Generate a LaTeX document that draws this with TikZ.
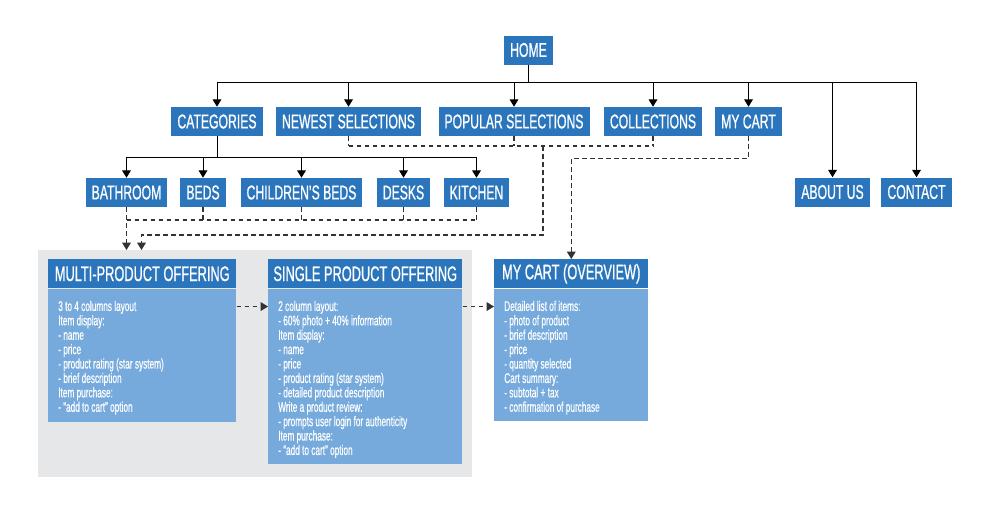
\documentclass[tikz,border=0pt]{standalone}
\usepackage{fontspec}
\setmainfont[FakeStretch=0.61,FakeBold=0.8]{Liberation Sans}
\newfontfamily\bodyfont[FakeStretch=0.59,FakeBold=0.4,Ligatures=TeX]{Liberation Sans}
\usetikzlibrary{arrows.meta}

\definecolor{hdblue}{HTML}{2A75BB}
\definecolor{bdblue}{HTML}{76AADC}
\definecolor{bggray}{HTML}{E6E7E8}
\newcommand\boxtext[3]{\parbox[t][#2][t]{#1}{\raggedright #3}}

\begin{document}
\begin{tikzpicture}[x=0.75pt,y=-0.75pt,
    page/.style={fill=hdblue, text=white, font=\fontsize{15pt}{16pt}\selectfont,
        inner xsep=4.5pt, inner ysep=0pt, minimum height=21.75pt},
    head/.style={fill=hdblue, text=white, font=\fontsize{15.75pt}{17pt}\selectfont,
        inner sep=0pt, minimum height=21.75pt, anchor=north west},
    body/.style={fill=bdblue, text=white, font=\bodyfont\fontsize{10.5pt}{10.8pt}\selectfont,
        inner xsep=7.5pt, inner ysep=9pt, anchor=north west},
    link/.style={line width=0.75pt},
    dlink/.style={line width=0.8pt, draw=black!80, dash pattern=on 3.5pt off 2.5pt},
    >={Triangle[width=6.5pt,length=5.5pt]}]

    \useasboundingbox (0,0) rectangle (998,518);

    % Pages
    \node[page] (home) at (528.5,50) {HOME};
    \node[page] (categories) at (217,121.5) {CATEGORIES};
    \node[page] (newest) at (348.5,121.5) {NEWEST SELECTIONS};
    \node[page] (popular) at (514,121.5) {POPULAR SELECTIONS};
    \node[page] (collections) at (653,121.5) {COLLECTIONS};
    \node[page] (mycart) at (748.5,121.5) {MY CART};
    \node[page] (about) at (832.5,192) {ABOUT US};
    \node[page] (contact) at (916.5,192) {CONTACT};

    \node[page] (bathroom) at (126.5,192.5) {BATHROOM};
    \node[page] (beds) at (203,192.5) {BEDS};
    \node[page] (childbeds) at (301.5,192.5) {CHILDREN’S BEDS};
    \node[page] (desks) at (403.5,192.5) {DESKS};
    \node[page] (kitchen) at (476.5,192.5) {KITCHEN};

    % Offerings
    \node[fill=bggray, inner sep=0pt, minimum width=325.5pt, minimum height=170.25pt,
        anchor=north west] (offerings) at (38,250) {};
    \node[head, minimum width=141pt] (multi) at (48,259) {MULTI-PRODUCT OFFERING};
    \node[body] (multibody) at (multi.south west) {\boxtext{126pt}{81.75pt}{%
        3 to 4 columns layout\\ Item display:\\ - name\\ - price\\
        - product rating (star system)\\ - brief description\\ Item purchase:\\
        - “add to cart” option}};
    \node[head, minimum width=145.5pt] (single) at (268,259) {SINGLE PRODUCT OFFERING};
    \node[body] (singlebody) at (single.south west) {\boxtext{130.5pt}{113.25pt}{%
        2 column layout:\\ - 60\% photo + 40\% information\\ Item display:\\ - name\\
        - price\\ - product rating (star system)\\ - detailed product description\\
        Write a product review:\\ - prompts user login for authenticity\\
        Item purchase:\\ - “add to cart” option}};
    \node[head, minimum width=115.5pt] (cart) at (494,259) {MY CART (OVERVIEW)};
    \node[body] (cartbody) at (cart.south west) {\boxtext{100.5pt}{81pt}{%
        Detailed list of items:\\ - photo of product\\ - brief description\\
        - price\\ - quantity selected\\ Cart summary:\\ - subtotal + tax\\
        - confirmation of purchase}};

    % Main menu
    \coordinate (topbus) at (528.5,82);
    \draw[link] (home.south) -- (topbus);
    \draw[link] (categories.north |- topbus) -- (contact.north |- topbus);
    \foreach \n in {categories,newest,popular,collections,mycart,about,contact}
        \draw[link,->] (\n.north |- topbus) -- (\n.north);

    % Categories
    \coordinate (catbus) at (217,157);
    \draw[link] (categories.south) -- (catbus);
    \draw[link] (bathroom.north |- catbus) -- (kitchen.north |- catbus);
    \foreach \n in {bathroom,beds,childbeds,desks,kitchen}
        \draw[link,->] (\n.north |- catbus) -- (\n.north);

    % Dashed links to the offerings
    \coordinate (subbus) at (126.5,220);
    \draw[dlink,->] (bathroom.south) -- (bathroom.south |- offerings.north);
    \draw[dlink] (subbus) -- (kitchen.south |- subbus);
    \foreach \n in {beds,childbeds,desks,kitchen}
        \draw[dlink] (\n.south) -- (\n.south |- subbus);

    \coordinate (selbus) at (543,146);
    \draw[dlink] (newest.south |- selbus) -- (collections.south |- selbus);
    \foreach \n in {newest,popular,collections}
        \draw[dlink] (\n.south) -- (\n.south |- selbus);
    \draw[dlink,->] (selbus) -- ++(0,89)
        -| ([xshift=11.25pt]bathroom.south |- offerings.north);

    \draw[dlink,->] (mycart.south) -- ++(0,22) -| (cart.north);

    \draw[dlink,->] ([yshift=-13.5pt]multibody.north east) -- ([yshift=-13.5pt]singlebody.north west);
    \draw[dlink,->] ([yshift=-13.5pt]singlebody.north east) -- ([yshift=-13.5pt]cartbody.north west);
\end{tikzpicture}
\end{document}
